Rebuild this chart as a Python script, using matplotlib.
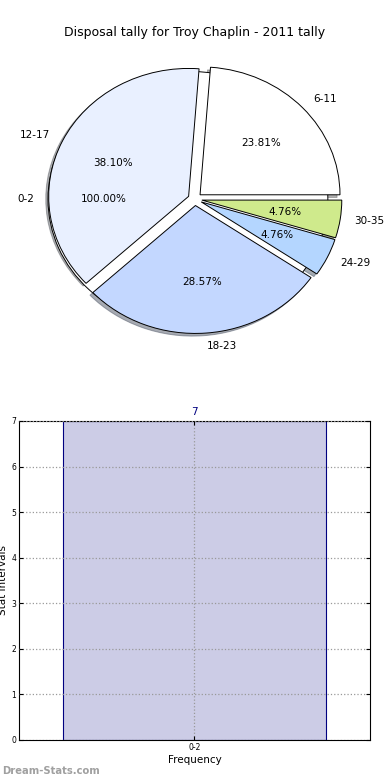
import matplotlib
matplotlib.use('Agg')
import matplotlib.pyplot as plt

title = 'Disposal tally for Troy Chaplin - 2011 tally'

# pie data
first_label = ['0-2']
first_value = [7]
labels = ['6-11', '12-17', '18-23', '24-29', '30-35']
values = [5, 8, 6, 1, 1]
colors = ['#ffffff', '#e9f0ff', '#c3d7ff', '#b4d6ff', '#cfea8c']

# bar data
bar_labels = ['0-2']
bar_values = [7]

fig = plt.figure(figsize=(3.9, 7.8), dpi=100)

# --- pie ---
ax = fig.add_axes([0.0513, 0.5397, 0.897, 0.410])
shadow = dict(ox=-0.015, oy=-0.015, shade=0.6)
ax.pie(first_value, labels=first_label, autopct='%1.2f%%', explode=[0.05],
       colors=['#ffffff'], shadow=False, startangle=0,
       wedgeprops=dict(edgecolor='black', linewidth=0.7),
       textprops=dict(fontsize=7.5))
ax.pie(values, labels=labels, autopct='%1.2f%%', explode=[0.05] * len(values),
       colors=colors, shadow=shadow, startangle=0,
       wedgeprops=dict(edgecolor='black', linewidth=0.7),
       textprops=dict(fontsize=7.5))
ax.set_aspect('auto')
ax.set_xlim(-1.25, 1.25)
ax.set_ylim(-1.25, 1.25)
ax.set_title(title, fontsize=9, pad=0)

# --- bar ---
ax2 = fig.add_axes([0.0487, 0.0513, 0.9, 0.409])
x = range(len(bar_values))
bars = ax2.bar(x, bar_values, width=0.6, color='#ccccE6', edgecolor='#000080', linewidth=0.8)
for xi, v in zip(x, bar_values):
    ax2.text(xi, v + 0.08, str(v), ha='center', va='bottom', color='#000080', fontsize=7.5)
ax2.set_xlim(-0.4, len(bar_values) - 0.6)
ax2.set_ylim(0, 7)
ax2.set_yticks(range(0, 8))
ax2.set_xticks(list(x))
ax2.set_xticklabels(bar_labels)
ax2.tick_params(direction='in', labelsize=5.5, top=True, right=True, length=3, pad=2)
ax2.grid(True, linestyle=':', color='#999999', linewidth=0.9)
ax2.set_axisbelow(False)
ax2.set_xlabel('Frequency', fontsize=7.5, labelpad=2)
ax2.set_ylabel('Stat Intervals', fontsize=7.5)
ax2.yaxis.set_label_coords(-0.03, 0.5)

fig.text(0.005, 0.005, 'Dream-Stats.com', color='#a0a0a0', fontsize=7.2, weight='bold',
         ha='left', va='bottom')

fig.savefig('out.png', dpi=100)
